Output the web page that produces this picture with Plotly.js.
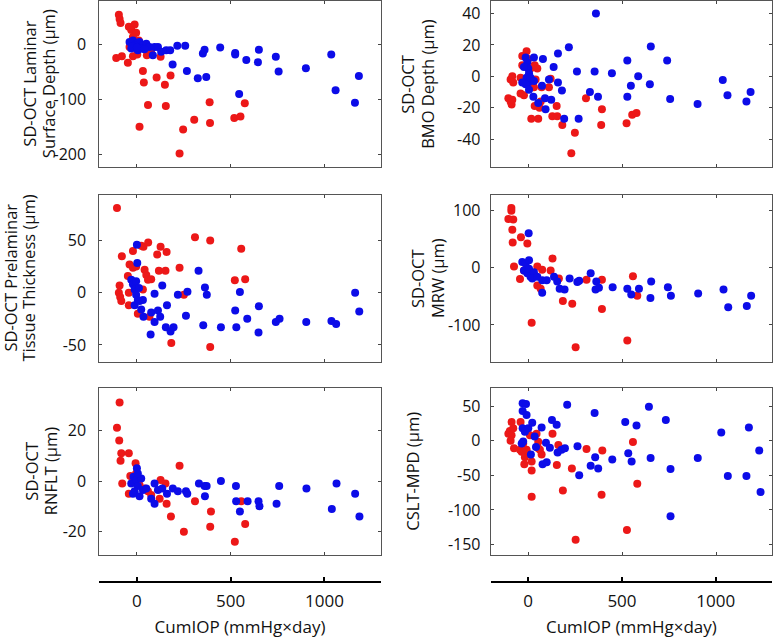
<!DOCTYPE html>
<html>
<head>
<meta charset="utf-8">
<script src="https://cdn.plot.ly/plotly-3.0.1.min.js"></script>
<style>html,body{margin:0;padding:0;background:#fff;}#chart{width:774px;height:643px;}</style>
</head>
<body>
<div id="chart"></div>
<script>
// ---- Panel 1: SD-OCT Laminar Surface Depth ----
const lsdRedX = [-96,-92,-87,-43,-12,-30,-4,-21,-110,-80,-48,-21,2,53,76,126,32,37,105,149,179,59,154,14,227,246,305,387,389,518,551,574,-39,32,10];
const lsdRedY = [55,47,40,33,37,27,22,14,-24,-21,-33,-21,-18,-19,-10,-22,-48,-69,-60,-73,-56,-110,-112,-150,-199,-155,-137,-105,-143,-134,-131,-107,-4,-4,8];
const lsdBlueX = [-39,-21,-4,14,32,-30,5,50,67,94,85,112,129,156,177,-12,23,-25,0,40,215,257,360,351,443,523,523,582,649,644,739,754,899,1034,1057,1160,1181,190,266,324,369,544];
const lsdBlueY = [5,8,2,5,-1,-7,-10,2,-4,-4,-19,-4,-13,-10,-10,-1,-7,-3,-5,-8,-2,-2,-9,-16,-5,-15,-18,-28,-9,-32,-22,-49,-43,-18,-83,-106,-57,-36,-48,-61,-59,-90];

// ---- Panel 2: SD-OCT BMO Depth ----
const bmoRedX = [-106,-94,-89,-85,-94,-85,-80,-32,-9,-32,-41,-41,-23,16,53,34,48,39,30,34,60,71,66,110,119,128,154,151,181,248,229,307,392,388,523,553,576,0,12];
const bmoRedY = [-14,-16,-18,-15,-2,0,-4,13,16,7,-1,-11,-12,-27,-27,7,5,-2,-7,-19,-20,-7,-16,-7,-1.5,-25.5,-25.5,-19,-31,-36,-49,-14,-21,-31,-30,-24.5,-23.4,11,5];
const bmoBlueX = [-14,-5,0,4,-9,0,-14,4,12,-32,-23,30,30,27,78,73,53,92,89,110,122,135,158,158,179,191,216,259,268,328,353,360,371,445,527,527,546,585,647,652,739,755,901,1035,1060,1161,1183];
const bmoBlueY = [12,9,5,2,-1,-4,-5,-8.5,-1,-4,6,12,-3,-13,11,-6,-17,-21,-14,-2,-15,6,14.5,-4,-9,-27,18.5,3,-27,-10,3,40,-13,2,10,-13,-6,0,-5,19,10,-14.5,-17.7,-2.3,-12,-16,-10];

// ---- Panel 3: SD-OCT Prelaminar Tissue Thickness ----
const pttRedX = [-106,-80,-92,-96,-89,-83,-43,-48,-39,-21,-21,-4,-43,5,23,35,60,41,50,59,76,32,67,108,126,158,117,152,227,250,183,309,390,390,521,576,555];
const pttRedY = [81,35,7,0,-4,-8,0,16,27,40,24,25,-12,-20,45,44,48,22,17,12.5,13,3,-23,36.5,44,39,21,21,24,-2,-48,53,50,-52,12,13,42];
const pttBlueX = [0,2,-30,-21,-12,-4,5,-12,14,32,23,-4,11,35,76,94,94,112,124,135,160,73,154,179,195,218,261,269,328,353,362,372,447,523,529,548,587,649,647,739,759,901,1035,1060,1161,1183];
const pttBlueY = [46,28.5,12.5,8,3,-2,-7,-12,-8,-7,-16,11,4.5,-23,-19,-1,-28,-17,-23,7,-12,-40,-33,-37,-33,-2,-22,1,21,-31,5,-2,-33,-17,-33,0.6,-25,-13,-38,-28,-25,-28,-27,-30,0,-18];

// ---- Panel 4: SD-OCT MRW ----
const mrwRedX = [-90,-90,-106,-80,-85,-83,-39,-5,-76,-44,-23,18,48,74,48,66,119,129,163,184,234,252,310,392,392,527,557,580];
const mrwRedY = [104,99,85,84,66,44,53,42,2,-20,-5,-96,2,-3.5,-31,-37,-5,16,-19,-58,-63,-139,-21,-21,-72,-127,-15,-49];
const mrwBlueX = [2,-32,-14,4,-23,-5,12,4,30,21,48,74,74,98,137,154,167,193,220,261,271,332,362,358,376,449,527,548,589,654,650,743,759,904,1039,1064,1163,1186];
const mrwBlueY = [60,10,7,13,-5,-10,-16,-2,-8,-19,-16,-44,-22,-22,-16,-24,-37,-38,-19,-25,-23,-10,-24,-38,-35,-34,-37,-47,-37,-24,-53,-34,-49,-45,-38,-69,-67,-49];

// ---- Panel 5: SD-OCT RNFLT ----
const rnfRedX = [-92,-106,-94,-83,-87,-43,-7,-78,-43,-35,-21,-4,14,41,59,76,126,152,121,158,181,227,250,309,394,390,521,555,576];
const rnfRedY = [31,21,16,11,8,11,7,-1,-5,2,0.4,3,-1.6,-3,-4,-5.5,0.4,-1,-7,-9,-14,6,-20,-8,-12,-18,-24,-8,-17];
const rnfBlueX = [0,-30,-18,-4,5,-12,14,32,23,50,5,-21,76,94,94,112,135,160,191,218,261,268,330,360,371,362,447,527,528,548,589,647,652,757,743,902,1037,1062,1161,1184];
const rnfBlueY = [5,-1,1.7,0.4,-2,-4,-6,-3.5,1,-3,3,-5,-7,-9,-1,-3.5,-3,-5,-3,-4,-4,-5,-1,-2,-2,-6,0,-2,-8,-12,-8,-8,-10,-2,-9,-3,-11,-1,-5,-14];

// ---- Panel 6: CSLT-MPD ----
const mpdRedX = [-106,-98,-89,-94,-80,-89,-76,-41,-44,-35,-27,-18,-21,-9,0,9,18,18,18,44,53,62,71,53,129,160,152,184,232,252,310,394,390,525,557,580];
const mpdRedY = [10,14,8,0,18,27,-11,27,-13,-16,-4,-24,-34,-13,-19,8,-30,-43,-81,10,-1.4,-13,-20,-11,10,-6,-35,-72,-40,-143,-12,-14,-78,-129,-2,-62];
const mpdBlueX = [-30,-12,-30,-9,-30,0,21,-18,-27,-35,34,41,14,71,76,98,94,115,126,151,156,177,195,207,262,271,332,353,356,372,447,516,532,550,576,642,651,732,757,757,902,1027,1062,1161,1174,1229,1236];
const mpdBlueY = [54,53,43,37,18,18,26,13,-1,-4,6,-9,-20,19,-34,-31,-3,-10,30,23,-17,-13,-11,52,-8,-50,-36,40,-24,-40,-27,27,-18,-30,22,49,-25,30,-41,-109,-25,12,-51,-51,19,-14,-74];

// ---- Text ----
const xTitle = 'CumIOP (mmHg×day)';
const xTickVals = [-200, 0, 500, 1000, 1300];
const xTickText = ['', '0', '500', '1000', ''];
const panelTitles = [
  ['SD-OCT Laminar', 'Surface Depth (µm)'],
  ['SD-OCT', 'BMO Depth (µm)'],
  ['SD-OCT Prelaminar', 'Tissue Thickness (µm)'],
  ['SD-OCT', 'MRW (µm)'],
  ['SD-OCT', 'RNFLT (µm)'],
  ['CSLT-MPD (µm)']
];
const yTicks = [
  [-200, -100, 0],
  [-40, -20, 0, 20, 40],
  [-50, 0, 50],
  [-100, 0, 100],
  [-20, 0, 20],
  [-150, -100, -50, 0, 50]
];
const yTickText = [
  ['-200', '-100', '0'],
  ['-40', '-20', '0', '20', '40'],
  ['-50', '0', '50'],
  ['-100', '0', '100'],
  ['-20', '0', '20'],
  ['-150', '-100', '-50', '0', '50']
];
const yRanges = [[-224, 80], [-58, 48], [-66, 94], [-164, 127.5], [-29.2, 36.6], [-165, 75.7]];

const RED = 'rgb(236,24,24)';
const BLUE = 'rgb(12,12,232)';
const FONT = 'Open Sans, sans-serif';

const sets = [
  [lsdRedX, lsdRedY, lsdBlueX, lsdBlueY],
  [bmoRedX, bmoRedY, bmoBlueX, bmoBlueY],
  [pttRedX, pttRedY, pttBlueX, pttBlueY],
  [mrwRedX, mrwRedY, mrwBlueX, mrwBlueY],
  [rnfRedX, rnfRedY, rnfBlueX, rnfBlueY],
  [mpdRedX, mpdRedY, mpdBlueX, mpdBlueY]
];

const W = 774, H = 643;
const colDom = [[99.3 / W, 380.7 / W], [490.7 / W, 772 / W]];
const rowPx = [[1, 167.3], [194.5, 361.7], [388.3, 555]];
const rowDom = rowPx.map(r => [1 - r[1] / H, 1 - r[0] / H]);
const xRange = [-200, 1297];

const data = [];
const layout = {
  width: W, height: H,
  margin: {l: 0, r: 0, t: 0, b: 0},
  paper_bgcolor: '#fff', plot_bgcolor: '#fff',
  showlegend: false,
  font: {family: FONT, size: 16, color: '#111'},
  annotations: []
};

sets.forEach((s, i) => {
  const n = i + 1;
  const xa = 'x' + n, ya = 'y' + n;
  data.push({type: 'scatter', mode: 'markers', x: s[0], y: s[1], xaxis: xa, yaxis: ya,
    marker: {color: RED, size: 8}, hoverinfo: 'skip'});
  data.push({type: 'scatter', mode: 'markers', x: s[2], y: s[3], xaxis: xa, yaxis: ya,
    marker: {color: BLUE, size: 8}, hoverinfo: 'skip'});
  const col = i % 2, row = Math.floor(i / 2);
  layout['xaxis' + n] = {
    domain: colDom[col], anchor: ya, range: xRange,
    tickvals: [0, 500, 1000], showticklabels: false,
    ticks: 'inside', ticklen: 3, tickcolor: '#444',
    showline: true, linecolor: '#555', linewidth: 1, mirror: 'ticks',
    showgrid: false, zeroline: false
  };
  layout['yaxis' + n] = {
    domain: rowDom[row], anchor: xa, range: yRanges[i],
    tickvals: yTicks[i], ticktext: yTickText[i],
    ticks: 'inside', ticklen: 3, tickcolor: '#444',
    showline: true, linecolor: '#555', linewidth: 1, mirror: 'ticks',
    showgrid: false, zeroline: false, ticklabelstandoff: col === 0 ? 9 : 6,
    tickfont: {family: FONT, size: 16, color: '#111'}
  };
  // titles
  const lines = panelTitles[i];
  const cy = 1 - ((rowPx[row][0] + rowPx[row][1]) / 2) / H;
  const titleX = [
    [29.5, 48], [406.7, 426.7], [10.5, 28.5], [417, 437], [32, 50.5], [413]
  ][i];
  lines.forEach((t, k) => {
    layout.annotations.push({
      text: t, xref: 'paper', yref: 'paper', x: titleX[k] / W, y: cy,
      xanchor: 'center', yanchor: 'middle', textangle: -90, showarrow: false,
      font: {family: FONT, size: 16.5, color: '#111'}
    });
  });
});

// detached bottom CumIOP axes
[[7, 0, 'y5'], [8, 1, 'y6']].forEach(([n, col, ya]) => {
  data.push({type: 'scatter', mode: 'markers', x: [], y: [], xaxis: 'x' + n, yaxis: ya, hoverinfo: 'skip'});
  layout['xaxis' + n] = {
    domain: colDom[col], anchor: 'free', position: 1 - 581.7 / H, range: [-200, 1300],
    overlaying: col === 0 ? 'x5' : 'x6',
    tickvals: xTickVals, ticktext: xTickText,
    ticks: 'inside', ticklen: 4, tickwidth: 2, tickcolor: '#000',
    showline: true, linecolor: '#000', linewidth: 2,
    showgrid: false, zeroline: false, ticklabelstandoff: 4,
    tickfont: {family: FONT, size: 17, color: '#111'},
    title: {text: xTitle, font: {family: FONT, size: 17, color: '#111'}, standoff: 9}
  };
});

Plotly.newPlot('chart', data, layout, {displayModeBar: false, staticPlot: true});
</script>
</body>
</html>
